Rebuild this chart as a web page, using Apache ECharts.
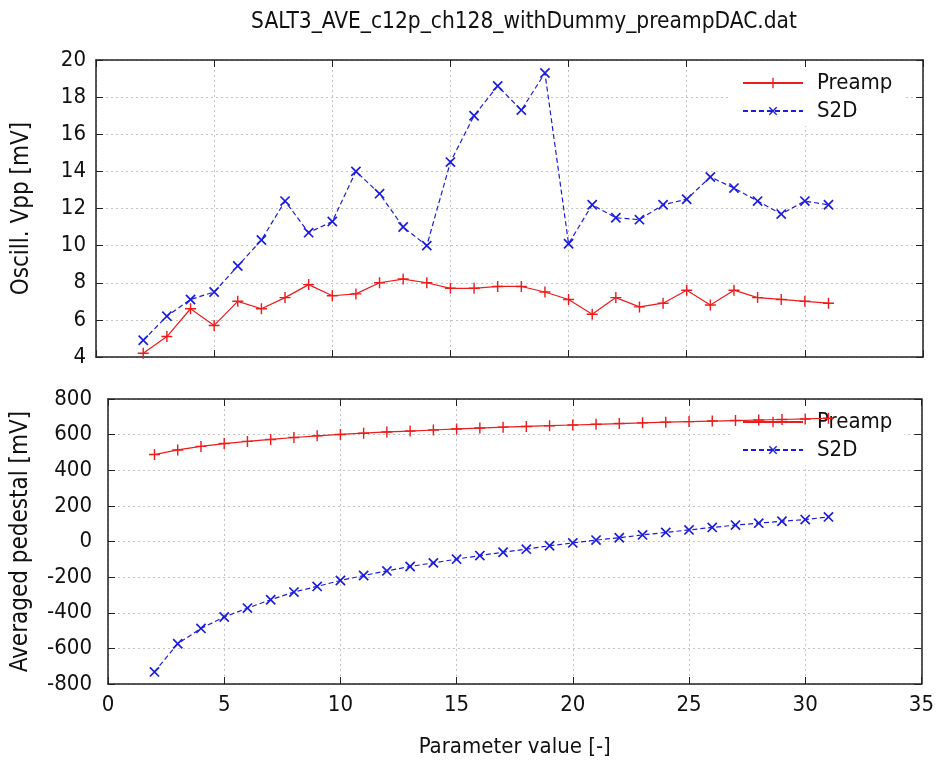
<!DOCTYPE html>
<html>
<head>
<meta charset="utf-8">
<script src="https://cdn.jsdelivr.net/npm/echarts@6/dist/echarts.min.js"></script>
<style>
  html, body { margin: 0; padding: 0; background: #fff; }
  #chart { width: 937px; height: 765px; }
</style>
</head>
<body>
<div id="chart"></div>
<script>
// parameter values (x) for both panels
const paramValues = [2, 3, 4, 5, 6, 7, 8, 9, 10, 11, 12, 13, 14, 15, 16, 17, 18, 19, 20, 21, 22, 23, 24, 25, 26, 27, 28, 29, 30, 31]

// top panel: oscill. Vpp [mV]
const vppPreamp = [4.2, 5.1, 6.6, 5.7, 7.0, 6.6, 7.2, 7.9, 7.3, 7.4, 8.0, 8.2, 8.0, 7.7, 7.7, 7.8, 7.8, 7.5, 7.1, 6.3, 7.2, 6.7, 6.9, 7.6, 6.8, 7.6, 7.2, 7.1, 7.0, 6.9]
const vppS2D = [4.9, 6.2, 7.1, 7.5, 8.9, 10.3, 12.4, 10.7, 11.3, 14.0, 12.8, 11.0, 10.0, 14.5, 17.0, 18.6, 17.3, 19.3, 10.1, 12.2, 11.5, 11.4, 12.2, 12.5, 13.7, 13.1, 12.4, 11.7, 12.4, 12.2]

// bottom panel: averaged pedestal [mV]
const pedPreamp = [488, 514, 534, 550, 562, 573, 584, 593, 601, 608, 615, 620, 626, 632, 637, 642, 646, 650, 654, 658, 662, 666, 670, 673, 676, 679, 682, 685, 688, 692]
const pedS2D = [-732, -574, -488, -424, -374, -327, -284, -252, -219, -191, -165, -140, -120, -99, -79, -60, -43, -24, -8, 8, 21, 37, 51, 65, 79, 92, 103, 114, 123, 138]

const titleText = 'SALT3_AVE_c12p_ch128_withDummy_preampDAC.dat'
const seriesNames = ['Preamp', 'S2D']

const FONT = '"Liberation Sans Narrow", "DejaVu Sans Condensed", "Liberation Sans", sans-serif'
const RED = '#ee1c1c'
const BLUE = '#1c1cdd'
const PLUS = 'path://M4.35,0h1.3v10h-1.3zM0,4.35h10v1.3h-10z'

const pairs = (ys) => paramValues.map((x, i) => [x, ys[i]])

const chart = echarts.init(document.getElementById('chart'))

function frameAxis(extra) {
  return Object.assign({
    type: 'value',
    axisLine: { show: true, onZero: false, lineStyle: { color: '#222', width: 1.5 } },
    axisTick: { show: true, inside: true, length: 7, lineStyle: { color: '#222', width: 1 } },
    axisLabel: { show: false },
    splitLine: { show: false },
  }, extra)
}

const gridLine = { show: true, lineStyle: { color: '#c4c4c4', type: [2, 3], width: 1 } }
const labelStyle = { color: '#111', fontSize: 22, fontFamily: FONT }
const yNameStyle = { color: '#111', fontSize: 24, fontFamily: FONT }

function lineSeries(name, data, xi, yi, blue) {
  return {
    name,
    type: 'line',
    xAxisIndex: xi,
    yAxisIndex: yi,
    data,
    z: 3,
    symbol: PLUS,
    symbolSize: blue ? 13 : 11,
    symbolRotate: blue ? 45 : 0,
    showAllSymbol: true,
    animation: false,
    lineStyle: { color: blue ? BLUE : RED, width: 1.2, type: blue ? [5, 3] : 'solid' },
    itemStyle: { color: blue ? BLUE : RED },
  }
}

function legendAt(top) {
  return {
    data: seriesNames,
    orient: 'vertical',
    left: 730,
    top,
    z: 1,
    selectedMode: false,
    backgroundColor: '#fff',
    padding: [4, 12, 4, 12],
    itemWidth: 60,
    itemHeight: 13,
    itemGap: 6,
    textStyle: { color: '#111', fontSize: 22, fontFamily: FONT, padding: [0, 0, 0, 9] },
  }
}

chart.setOption({
  animation: false,
  title: {
    text: titleText,
    left: 519,
    textAlign: 'center',
    top: 6,
    textStyle: { color: '#111', fontSize: 22.5, fontWeight: 'normal', fontFamily: FONT },
  },
  legend: [legendAt(68), legendAt(407)],
  grid: [
    { left: 96, right: 14, top: 60, height: 297 },
    { left: 108, right: 14, top: 399, height: 285 },
  ],
  xAxis: [
    frameAxis({ gridIndex: 0, position: 'bottom', min: 0, max: 35, interval: 5, splitLine: gridLine }),
    frameAxis({ gridIndex: 0, position: 'top', min: 0, max: 35, interval: 5 }),
    frameAxis({
      gridIndex: 1, position: 'bottom', min: 0, max: 35, interval: 5, splitLine: gridLine,
      axisLabel: Object.assign({ show: true, margin: 10 }, labelStyle),
      name: 'Parameter value [-]', nameLocation: 'middle', nameGap: 52,
      nameTextStyle: labelStyle,
    }),
    frameAxis({ gridIndex: 1, position: 'top', min: 0, max: 35, interval: 5 }),
  ],
  yAxis: [
    frameAxis({
      gridIndex: 0, position: 'left', min: 4, max: 20, interval: 2, splitLine: gridLine,
      axisLabel: Object.assign({ show: true, margin: 10 }, labelStyle),
      name: 'Oscill. Vpp [mV]', nameLocation: 'middle', nameGap: 62,
      nameTextStyle: yNameStyle,
    }),
    frameAxis({ gridIndex: 0, position: 'right', min: 4, max: 20, interval: 2 }),
    frameAxis({
      gridIndex: 1, position: 'left', min: -800, max: 800, interval: 200, splitLine: gridLine,
      axisLabel: Object.assign({ show: true, margin: 16 }, labelStyle),
      name: 'Averaged pedestal [mV]', nameLocation: 'middle', nameGap: 75,
      nameTextStyle: yNameStyle,
    }),
    frameAxis({ gridIndex: 1, position: 'right', min: -800, max: 800, interval: 200 }),
  ],
  series: [
    lineSeries('Preamp', pairs(vppPreamp), 0, 0, false),
    lineSeries('S2D', pairs(vppS2D), 0, 0, true),
    lineSeries('Preamp', pairs(pedPreamp), 2, 2, false),
    lineSeries('S2D', pairs(pedS2D), 2, 2, true),
  ],
})
</script>
</body>
</html>
